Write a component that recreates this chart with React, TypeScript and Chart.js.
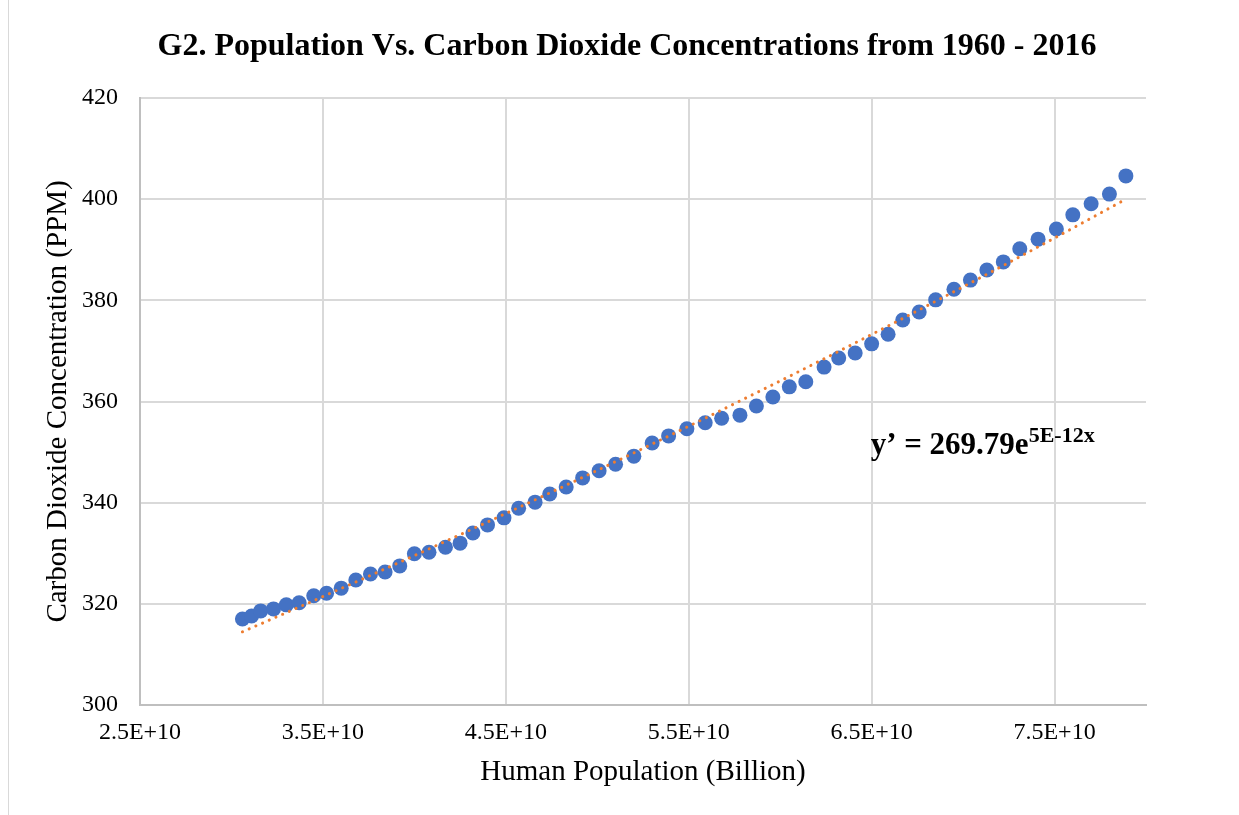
import React, { useEffect, useRef } from "react";
import { Chart, registerables } from "chart.js";

Chart.register(...registerables);

// Human population (x)
const populationX: number[] = [
  3.06e10, 3.11e10, 3.16e10, 3.23e10, 3.30e10, 3.37e10, 3.45e10, 3.52e10, 3.60e10, 3.68e10,
  3.76e10, 3.84e10, 3.92e10, 4.00e10, 4.08e10, 4.17e10, 4.25e10, 4.32e10, 4.40e10, 4.49e10,
  4.57e10, 4.66e10, 4.74e10, 4.83e10, 4.92e10, 5.01e10, 5.10e10, 5.20e10, 5.30e10, 5.39e10,
  5.49e10, 5.59e10, 5.68e10, 5.78e10, 5.87e10, 5.96e10, 6.05e10, 6.14e10, 6.24e10, 6.32e10,
  6.41e10, 6.50e10, 6.59e10, 6.67e10, 6.76e10, 6.85e10, 6.95e10, 7.04e10, 7.13e10, 7.22e10,
  7.31e10, 7.41e10, 7.51e10, 7.60e10, 7.70e10, 7.80e10, 7.89e10,
];

// CO2 concentration (PPM)
const co2PPM: number[] = [
  317.0, 317.6, 318.6, 319.0, 319.8, 320.2, 321.6, 322.1, 323.1, 324.7,
  325.9, 326.3, 327.5, 329.9, 330.2, 331.2, 332.0, 334.0, 335.6, 337.0,
  338.9, 340.1, 341.7, 343.1, 344.9, 346.3, 347.6, 349.2, 351.8, 353.2,
  354.6, 355.8, 356.7, 357.3, 359.1, 360.9, 362.9, 363.9, 366.8, 368.6,
  369.6, 371.4, 373.3, 376.1, 377.7, 380.1, 382.2, 384.0, 386.0, 387.6,
  390.2, 392.1, 394.1, 396.9, 399.1, 401.0, 404.6,
];

const xTickValues: number[] = [2.5e10, 3.5e10, 4.5e10, 5.5e10, 6.5e10, 7.5e10];

const TITLE = "G2. Population Vs. Carbon Dioxide Concentrations from 1960 - 2016";
const X_TITLE = "Human Population (Billion)";
const Y_TITLE = "Carbon Dioxide Concentration (PPM)";
const EQ_MAIN = "y\u2019 = 269.79e";
const EQ_SUP = "5E-12x";

const FONT = "'Liberation Serif', 'Times New Roman', Times, serif";

// Exponential least-squares fit (as Excel trendline does): ln(y) = ln(a) + b x
function expFit(xs: number[], ys: number[]) {
  const n = xs.length;
  let sx = 0, sy = 0, sxx = 0, sxy = 0;
  for (let i = 0; i < n; i++) {
    const lx = xs[i];
    const ly = Math.log(ys[i]);
    sx += lx; sy += ly; sxx += lx * lx; sxy += lx * ly;
  }
  const b = (n * sxy - sx * sy) / (n * sxx - sx * sx);
  const lna = (sy - b * sx) / n;
  return { a: Math.exp(lna), b };
}

export default function App() {
  const ref = useRef<HTMLCanvasElement | null>(null);

  useEffect(() => {
    if (!ref.current) return;
    const fit = expFit(populationX, co2PPM);
    const trend = populationX.map((x) => ({ x, y: fit.a * Math.exp(fit.b * x) }));
    const points = populationX.map((x, i) => ({ x, y: co2PPM[i] }));

    const textPlugin = {
      id: "texts",
      afterDraw(chart: any) {
        const ctx = chart.ctx;
        const xs = chart.scales.x;
        const ys = chart.scales.y;
        ctx.save();
        ctx.fillStyle = "#000";
        // chart title
        ctx.font = `bold 32px ${FONT}`;
        ctx.textAlign = "center";
        ctx.textBaseline = "middle";
        ctx.fillText(TITLE, 627, 47);
        // trendline equation
        const px = xs.getPixelForValue(6.5e10) - 1;
        const py = ys.getPixelForValue(349.6);
        ctx.textBaseline = "alphabetic";
        ctx.textAlign = "left";
        ctx.font = `bold 31px ${FONT}`;
        ctx.fillText(EQ_MAIN, px, py);
        const w = ctx.measureText(EQ_MAIN).width;
        ctx.font = `bold 22px ${FONT}`;
        ctx.fillText(EQ_SUP, px + w, py - 12);
        ctx.restore();
      },
    };

    const chart = new Chart(ref.current, {
      type: "scatter",
      data: {
        datasets: [
          {
            type: "line",
            label: "Trend",
            data: trend,
            borderColor: "#ED7D31",
            borderWidth: 3,
            borderDash: [0.1, 7.2],
            borderCapStyle: "round",
            pointRadius: 0,
            fill: false,
            tension: 0,
          } as any,
          {
            label: "CO2",
            data: points,
            backgroundColor: "#4472C4",
            borderColor: "#4472C4",
            borderWidth: 0,
            pointRadius: 7.5,
            pointHoverRadius: 7.5,
          },
        ],
      },
      options: {
        animation: false,
        responsive: false,
        devicePixelRatio: 1,
        layout: { padding: { left: 0, right: 93, top: 98, bottom: 0 } },
        plugins: {
          legend: { display: false },
          tooltip: { enabled: false },
          title: { display: false },
        },
        scales: {
          x: {
            type: "linear",
            min: 2.5e10,
            max: 8.0e10,
            afterBuildTicks: (scale: any) => {
              scale.ticks = xTickValues.map((v) => ({ value: v }));
            },
            afterFit: (scale: any) => {
              scale.height = 110;
            },
            ticks: {
              color: "#000",
              padding: 13,
              font: { family: FONT, size: 24 },
              maxRotation: 0,
              autoSkip: false,
              callback: (v: any) => Number(v).toExponential(1).toUpperCase(),
            },
            grid: { color: "#D9D9D9", lineWidth: 2, drawTicks: false },
            border: { color: "#BFBFBF", width: 2 },
            title: {
              display: true,
              text: X_TITLE,
              color: "#000",
              font: { family: FONT, size: 29, lineHeight: 1.2 },
              padding: { top: 0, bottom: 25 },
            },
          },
          y: {
            type: "linear",
            min: 300,
            max: 420,
            afterFit: (scale: any) => {
              scale.width = 140;
            },
            ticks: {
              stepSize: 20,
              color: "#000",
              padding: 22,
              font: { family: FONT, size: 24 },
            },
            grid: { color: "#D9D9D9", lineWidth: 2, drawTicks: false },
            border: { color: "#BFBFBF", width: 2 },
            title: {
              display: true,
              text: Y_TITLE,
              color: "#000",
              font: { family: FONT, size: 29, lineHeight: 1.2 },
              padding: { top: 41, bottom: 0 },
            },
          },
        },
      },
      plugins: [textPlugin],
    });

    return () => chart.destroy();
  }, []);

  return (
    <div
      style={{
        position: "absolute",
        left: 0,
        top: 0,
        width: 1239,
        height: 815,
        background: "#fff",
        overflow: "hidden",
      }}
    >
      <canvas ref={ref} width={1239} height={815} style={{ display: "block", width: 1239, height: 815 }} />
      <div
        style={{
          position: "absolute",
          left: 8,
          top: 0,
          width: 1,
          height: 815,
          background: "#D9D9D9",
        }}
      />
    </div>
  );
}
